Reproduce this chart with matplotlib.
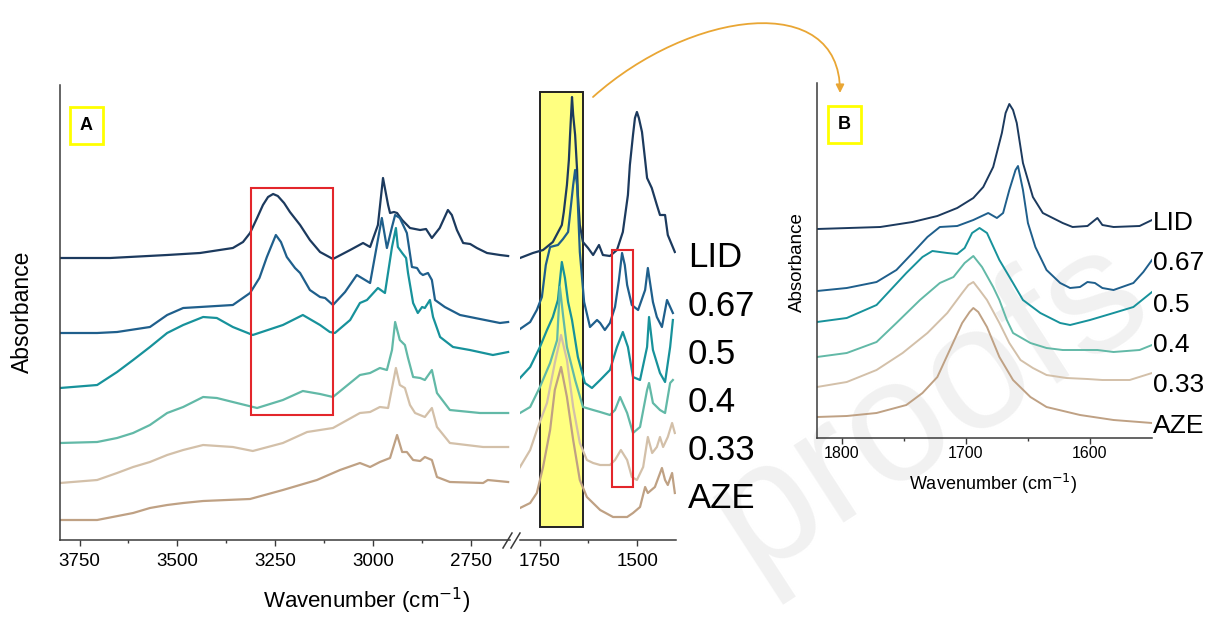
import numpy as np
import matplotlib.pyplot as plt
from matplotlib.patches import Rectangle, FancyArrowPatch
from matplotlib.path import Path

plt.rcParams['font.family'] = ['Liberation Sans', 'DejaVu Sans']

# ---- data (wavenumber cm-1, stacked absorbance a.u.) ----
samples = ["LID", "0.67", "0.5", "0.4", "0.33", "AZE"]
colors = ["#1c3a5e", "#1f5f8c", "#17929b", "#62b9a7", "#d3c0a9", "#bfa184"]

# panel A, 3800-2650 cm-1
lid_hi = [(3800, 2.82), (3672, 2.82), (3526, 2.85), (3442, 2.87), (3358, 2.92), (3332, 2.98),
          (3314, 3.07), (3296, 3.22), (3281, 3.35), (3268, 3.43), (3255, 3.46), (3243, 3.44),
          (3227, 3.37), (3212, 3.28), (3186, 3.15), (3161, 3.00), (3135, 2.88), (3102, 2.81),
          (3058, 2.90), (3025, 2.97), (3007, 2.93), (2987, 3.15), (2974, 3.62), (2961, 3.35),
          (2956, 3.27), (2946, 3.28), (2938, 3.27), (2925, 3.20), (2905, 3.12), (2879, 3.10),
          (2864, 3.11), (2849, 3.02), (2829, 3.12), (2808, 3.30), (2798, 3.25), (2785, 3.10),
          (2769, 2.97), (2751, 2.96), (2734, 2.92), (2708, 2.87), (2675, 2.85), (2654, 2.84)]
r067_hi = [(3800, 2.07), (3705, 2.07), (3654, 2.08), (3570, 2.13), (3526, 2.25), (3485, 2.32),
           (3442, 2.33), (3358, 2.35), (3314, 2.47), (3290, 2.62), (3271, 2.83), (3248, 3.05),
           (3235, 2.98), (3220, 2.83), (3199, 2.72), (3186, 2.67), (3161, 2.50), (3135, 2.43),
           (3122, 2.42), (3102, 2.35), (3071, 2.48), (3041, 2.65), (3007, 2.57), (2977, 3.22),
           (2964, 2.92), (2951, 3.13), (2943, 3.25), (2931, 3.22), (2913, 3.07), (2900, 2.73),
           (2887, 2.72), (2879, 2.67), (2872, 2.65), (2859, 2.67), (2849, 2.60), (2841, 2.40),
           (2816, 2.33), (2777, 2.25), (2726, 2.21), (2675, 2.17), (2654, 2.18)]
r05_hi = [(3800, 1.52), (3705, 1.55), (3654, 1.68), (3613, 1.80), (3570, 1.93), (3526, 2.07),
          (3485, 2.15), (3434, 2.23), (3399, 2.22), (3358, 2.13), (3307, 2.05), (3230, 2.15),
          (3179, 2.25), (3135, 2.15), (3110, 2.08), (3097, 2.07), (3058, 2.20), (3033, 2.37),
          (3015, 2.40), (2987, 2.52), (2969, 2.47), (2951, 2.93), (2941, 3.12), (2936, 2.93),
          (2925, 2.87), (2915, 2.82), (2910, 2.67), (2897, 2.37), (2885, 2.27), (2874, 2.33),
          (2867, 2.32), (2854, 2.40), (2846, 2.23), (2828, 2.03), (2795, 1.93), (2752, 1.90),
          (2693, 1.85), (2654, 1.88)]
r04_hi = [(3800, 0.97), (3705, 0.98), (3654, 1.02), (3613, 1.07), (3570, 1.15), (3526, 1.27),
          (3485, 1.33), (3434, 1.43), (3399, 1.42), (3358, 1.38), (3296, 1.32), (3230, 1.40),
          (3179, 1.49), (3135, 1.46), (3102, 1.43), (3033, 1.65), (3007, 1.67), (2982, 1.72),
          (2964, 1.70), (2951, 1.90), (2943, 2.18), (2931, 2.00), (2918, 1.95), (2910, 1.82),
          (2897, 1.63), (2879, 1.62), (2867, 1.60), (2849, 1.70), (2836, 1.47), (2803, 1.30),
          (2726, 1.27), (2654, 1.27)]
r033_hi = [(3800, 0.57), (3705, 0.60), (3654, 0.67), (3613, 0.73), (3570, 0.78), (3526, 0.85),
           (3485, 0.90), (3434, 0.95), (3358, 0.93), (3307, 0.89), (3230, 0.97), (3168, 1.08),
           (3102, 1.12), (3033, 1.27), (3007, 1.28), (2982, 1.33), (2961, 1.32), (2941, 1.72),
           (2931, 1.55), (2918, 1.52), (2905, 1.35), (2892, 1.27), (2867, 1.23), (2849, 1.32),
           (2836, 1.13), (2803, 0.97), (2718, 0.93), (2654, 0.93)]
aze_hi = [(3800, 0.20), (3705, 0.20), (3613, 0.27), (3570, 0.32), (3526, 0.35), (3485, 0.37),
          (3434, 0.39), (3314, 0.41), (3230, 0.50), (3143, 0.60), (3084, 0.70), (3033, 0.77),
          (3007, 0.73), (2982, 0.78), (2956, 0.82), (2938, 1.05), (2925, 0.88), (2913, 0.88),
          (2897, 0.80), (2879, 0.79), (2867, 0.83), (2849, 0.80), (2836, 0.63), (2803, 0.58),
          (2718, 0.57), (2706, 0.60), (2654, 0.58)]

# panel A, 1800-1400 cm-1
lid_lo = [(1800, 2.82), (1767, 2.87), (1741, 2.90), (1716, 2.98), (1693, 3.15), (1688, 3.28),
          (1680, 3.55), (1675, 3.80), (1672, 4.05), (1667, 4.43), (1664, 4.25), (1659, 4.05),
          (1654, 3.70), (1652, 3.45), (1647, 3.15), (1639, 2.98), (1626, 2.92), (1613, 2.85),
          (1598, 2.95), (1588, 2.85), (1570, 2.84), (1552, 2.90), (1537, 3.08), (1524, 3.45),
          (1519, 3.75), (1511, 4.05), (1506, 4.22), (1501, 4.28), (1496, 4.22), (1488, 4.08),
          (1480, 3.80), (1475, 3.62), (1463, 3.52), (1450, 3.35), (1442, 3.25), (1429, 3.25),
          (1422, 3.05), (1404, 2.88)]
r067_lo = [(1800, 2.11), (1774, 2.18), (1757, 2.30), (1744, 2.43), (1734, 2.75), (1723, 2.93),
           (1703, 2.95), (1690, 3.01), (1677, 3.08), (1664, 3.55), (1659, 3.70), (1654, 3.55),
           (1647, 2.88), (1636, 2.38), (1621, 2.13), (1603, 2.20), (1595, 2.17), (1583, 2.10),
           (1570, 2.17), (1557, 2.33), (1547, 2.60), (1539, 2.87), (1532, 2.75), (1526, 2.55),
           (1514, 2.35), (1498, 2.30), (1480, 2.50), (1473, 2.72), (1460, 2.38), (1450, 2.23),
           (1437, 2.13), (1424, 2.40), (1409, 2.27)]
r05_lo = [(1800, 1.62), (1774, 1.73), (1749, 1.93), (1731, 2.10), (1716, 2.23), (1703, 2.40),
          (1693, 2.78), (1685, 2.62), (1677, 2.38), (1667, 2.20), (1652, 1.83), (1634, 1.57),
          (1616, 1.52), (1595, 1.60), (1570, 1.70), (1552, 1.93), (1537, 2.08), (1524, 1.93),
          (1511, 1.63), (1493, 1.60), (1475, 1.93), (1470, 2.23), (1460, 1.90), (1442, 1.67),
          (1429, 1.58), (1416, 1.93), (1409, 2.20)]
r04_lo = [(1800, 1.27), (1774, 1.33), (1749, 1.53), (1723, 1.77), (1705, 2.00), (1698, 2.53),
          (1690, 2.25), (1680, 1.93), (1659, 1.60), (1639, 1.33), (1613, 1.30), (1595, 1.28),
          (1570, 1.25), (1557, 1.30), (1544, 1.43), (1526, 1.27), (1511, 1.07), (1493, 1.13),
          (1475, 1.50), (1470, 1.57), (1460, 1.37), (1442, 1.30), (1429, 1.27), (1416, 1.57),
          (1409, 1.60)]
r033_lo = [(1800, 0.73), (1774, 0.90), (1754, 1.13), (1731, 1.37), (1711, 1.77), (1695, 2.05),
           (1680, 1.80), (1664, 1.33), (1647, 0.97), (1629, 0.80), (1613, 0.77), (1595, 0.75),
           (1570, 0.75), (1557, 0.80), (1542, 0.90), (1526, 0.80), (1514, 0.63), (1501, 0.60),
           (1485, 0.73), (1473, 1.03), (1462, 0.87), (1450, 0.93), (1442, 1.03), (1434, 0.93),
           (1422, 1.03), (1411, 1.17), (1404, 1.07)]
aze_lo = [(1800, 0.32), (1774, 0.37), (1757, 0.47), (1741, 0.73), (1723, 1.10), (1711, 1.50),
          (1695, 1.73), (1680, 1.43), (1664, 1.00), (1647, 0.60), (1629, 0.43), (1595, 0.30),
          (1562, 0.23), (1526, 0.23), (1511, 0.27), (1493, 0.33), (1480, 0.53), (1473, 0.47),
          (1455, 0.53), (1437, 0.72), (1429, 0.60), (1422, 0.55), (1411, 0.67), (1404, 0.47)]

# panel B, 1820-1550 cm-1
lid_b = [(1820, 2.09), (1769, 2.11), (1743, 2.16), (1723, 2.22), (1707, 2.30), (1694, 2.40),
         (1686, 2.51), (1678, 2.71), (1671, 3.05), (1668, 3.25), (1665, 3.34), (1662, 3.28),
         (1659, 3.15), (1654, 2.75), (1646, 2.41), (1638, 2.25), (1630, 2.20), (1622, 2.15),
         (1614, 2.11), (1602, 2.12), (1594, 2.20), (1590, 2.13), (1581, 2.11), (1560, 2.12),
         (1550, 2.18)]
r067_b = [(1820, 1.47), (1796, 1.50), (1772, 1.56), (1756, 1.68), (1743, 1.85), (1731, 2.01),
          (1721, 2.11), (1707, 2.12), (1694, 2.18), (1682, 2.25), (1675, 2.20), (1670, 2.25),
          (1665, 2.48), (1660, 2.68), (1658, 2.72), (1654, 2.48), (1650, 2.15), (1644, 1.91),
          (1635, 1.68), (1624, 1.55), (1616, 1.50), (1608, 1.51), (1602, 1.56), (1596, 1.55),
          (1590, 1.50), (1581, 1.48), (1565, 1.55), (1557, 1.66), (1550, 1.78)]
r05_b = [(1820, 1.16), (1796, 1.20), (1772, 1.33), (1748, 1.65), (1735, 1.81), (1727, 1.87),
         (1715, 1.85), (1707, 1.84), (1701, 1.90), (1695, 2.05), (1689, 2.10), (1683, 2.05),
         (1673, 1.78), (1662, 1.55), (1654, 1.38), (1640, 1.25), (1624, 1.15), (1616, 1.13),
         (1600, 1.18), (1581, 1.25), (1565, 1.31), (1550, 1.46)]
r04_b = [(1820, 0.81), (1796, 0.85), (1772, 0.96), (1756, 1.15), (1737, 1.38), (1721, 1.55),
         (1710, 1.61), (1701, 1.75), (1694, 1.82), (1687, 1.71), (1678, 1.51), (1673, 1.38),
         (1667, 1.18), (1662, 1.05), (1648, 0.95), (1635, 0.90), (1622, 0.88), (1594, 0.88),
         (1581, 0.86), (1560, 0.88), (1550, 0.93)]
r033_b = [(1820, 0.51), (1796, 0.56), (1772, 0.68), (1751, 0.85), (1731, 1.05), (1715, 1.25),
          (1703, 1.45), (1698, 1.53), (1694, 1.56), (1689, 1.48), (1683, 1.38), (1673, 1.15),
          (1665, 0.95), (1656, 0.78), (1646, 0.70), (1635, 0.63), (1619, 0.60), (1602, 0.59),
          (1590, 0.58), (1568, 0.58), (1550, 0.65)]
aze_b = [(1820, 0.21), (1796, 0.22), (1772, 0.25), (1748, 0.33), (1735, 0.45), (1723, 0.61),
         (1713, 0.88), (1703, 1.15), (1697, 1.26), (1694, 1.30), (1690, 1.26), (1683, 1.11),
         (1673, 0.81), (1662, 0.58), (1648, 0.41), (1635, 0.31), (1608, 0.23), (1581, 0.18),
         (1550, 0.15)]

hi_curves = [lid_hi, r067_hi, r05_hi, r04_hi, r033_hi, aze_hi]
lo_curves = [lid_lo, r067_lo, r05_lo, r04_lo, r033_lo, aze_lo]
b_curves = [lid_b, r067_b, r05_b, r04_b, r033_b, aze_b]

W, H = 1214, 617  # canvas in pixels


def box(x0, y0, x1, y1):
    # pixel box (top-left origin) -> figure fraction [l, b, w, h]
    return [x0 / W, 1 - y1 / H, (x1 - x0) / W, (y1 - y0) / H]


def fx(x):
    return x / W


def fy(y):
    return 1 - y / H


fig = plt.figure(figsize=(W / 100, H / 100), dpi=100)
fig.patch.set_facecolor("white")
tf = fig.transFigure


def add_rect(x0, y0, x1, y1, **kw):
    l, b, w, h = box(x0, y0, x1, y1)
    fig.add_artist(Rectangle((l, b), w, h, transform=tf, **kw))


# watermark
fig.text(fx(930), fy(405), "proofs", fontsize=125, color="#f1f1f1", rotation=33,
         ha="center", va="center", zorder=-5)

# yellow highlight sits behind the spectra
add_rect(540, 92, 583, 527, facecolor="#ffff80", edgecolor="#222222", lw=1.4, zorder=-2)

axL = fig.add_axes(box(60, 85, 509.7, 540))
axR = fig.add_axes(box(520, 85, 676.4, 540))
axB = fig.add_axes(box(817, 83, 1152, 438))

for ax in (axL, axR, axB):
    ax.set_facecolor("none")
    for s in ("top", "right", "left"):
        ax.spines[s].set_visible(False)
    ax.spines["bottom"].set_color("#3a3a3a")
    ax.spines["bottom"].set_linewidth(1.1)
    ax.set_yticks([])
    ax.tick_params(axis="x", which="major", direction="out", length=4, width=1, color="#3a3a3a")
    ax.tick_params(axis="x", which="minor", direction="out", length=2.5, width=1, color="#3a3a3a")
for ax in (axL, axB):
    ax.spines["left"].set_visible(True)
    ax.spines["left"].set_color("#3a3a3a")
    ax.spines["left"].set_linewidth(1.1)

for pts, c in zip(hi_curves, colors):
    wn, ab = np.array(pts).T
    axL.plot(wn, ab, color=c, lw=1.6, solid_joinstyle="round")
for pts, c in zip(lo_curves, colors):
    wn, ab = np.array(pts).T
    axR.plot(wn, ab, color=c, lw=1.6, solid_joinstyle="round")
for pts, c in zip(b_curves, colors):
    wn, ab = np.array(pts).T
    axB.plot(wn, ab, color=c, lw=1.4, solid_joinstyle="round")

axL.set_xlim(3800, 2650)
axR.set_xlim(1800, 1400)
axB.set_xlim(1820, 1550)
axL.set_ylim(0, 4.55)
axR.set_ylim(0, 4.55)
axB.set_ylim(0, 3.55)

axL.set_xticks([3750, 3500, 3250, 3000, 2750])
axL.set_xticks([3625, 3375, 3125, 2875], minor=True)
axR.set_xticks([1750, 1500])
axR.set_xticks([1625], minor=True)
axB.set_xticks([1800, 1700, 1600])
axB.set_xticks([1750, 1650], minor=True)
for ax in (axL, axR):
    ax.tick_params(axis="x", labelsize=13.5, pad=5.5)
axB.tick_params(axis="x", labelsize=11.5, pad=2)

# axis titles
fig.text(fx(367), fy(601), "Wavenumber (cm$^{-1}$)", fontsize=16, ha="center", va="center")
fig.text(fx(22), fy(312), "Absorbance", fontsize=16.5, rotation=90, ha="center", va="center")
fig.text(fx(993), fy(484), "Wavenumber (cm$^{-1}$)", fontsize=13, ha="center", va="center")
fig.text(fx(797), fy(262), "Absorbance", fontsize=13.5, rotation=90, ha="center", va="center")

# sample labels
for name, yb in zip(samples, [267, 316, 364, 412, 460, 508]):
    fig.text(fx(688), fy(yb), name, fontsize=25, ha="left", va="baseline")
for name, yb in zip(samples, [230, 270, 312, 352, 392, 433]):
    fig.text(fx(1153), fy(yb), name, fontsize=19, ha="left", va="baseline")

# axis break marks
for x0 in (503, 511):
    fig.add_artist(plt.Line2D([fx(x0), fx(x0 + 9)], [fy(548), fy(533)],
                              color="#3a3a3a", lw=1.1, transform=tf))

# red highlight boxes
add_rect(251, 188, 333, 415, fill=False, edgecolor="#e3262b", lw=1.5)
add_rect(612, 250, 633, 487, fill=False, edgecolor="#e3262b", lw=1.5)

# panel tags
add_rect(70, 107, 103, 144, facecolor="white", edgecolor="#ffff00", lw=2)
add_rect(828, 106, 861, 143, facecolor="white", edgecolor="#ffff00", lw=2)
fig.text(fx(86.5), fy(125.5), "A", fontsize=13, fontweight="bold", ha="center", va="center")
fig.text(fx(844.5), fy(124.5), "B", fontsize=13, fontweight="bold", ha="center", va="center")

# zoom arrow
verts = [(fx(593), fy(97)), (fx(690), fy(10)), (fx(840), fy(-10)), (fx(840), fy(93))]
arrow = FancyArrowPatch(path=Path(verts, [Path.MOVETO, Path.CURVE4, Path.CURVE4, Path.CURVE4]),
                        arrowstyle="-|>", mutation_scale=12, color="#e9a634", lw=1.3,
                        transform=tf)
fig.add_artist(arrow)

fig.savefig("out.png", dpi=100)
